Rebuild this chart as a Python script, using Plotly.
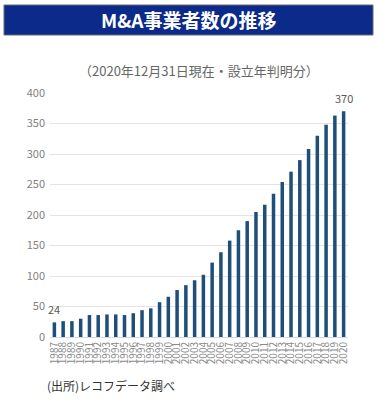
import plotly.graph_objects as go

years = [str(y) for y in range(1987, 2021)]
counts = [24, 26, 26, 30, 36, 36, 37, 37, 36, 39, 44, 47, 57, 66, 77, 85, 93,
          102, 122, 139, 158, 175, 190, 205, 217, 235, 254, 271, 290, 308, 330, 348, 363, 370]

title = "M&A事業者数の推移"
subtitle = "（2020年12月31日現在・設立年判明分）"
source = "(出所)レコフデータ調べ"

W, H = 383, 402
L, R, T, B = 50, 35, 93, 65
pw, ph = W - L - R, H - T - B

def px(x):
    return (x - L) / pw

def py(y):
    return (H - B - y) / ph

fig = go.Figure(go.Bar(
    x=years, y=counts,
    marker=dict(color="#1f4e79", line=dict(width=0)),
    hoverinfo="skip",
))

font = "Noto Sans CJK JP, Noto Sans, sans-serif"
value_notes = [
    dict(text=str(counts[i]), x=i, y=counts[i], xref="x", yref="y",
         showarrow=False, yanchor="bottom", xanchor="center", yshift=3,
         font=dict(size=11, color="#595959", family=font))
    for i in (0, len(counts) - 1)
]
fig.update_layout(
    width=W, height=H, margin=dict(l=L, r=R, t=T, b=B, autoexpand=False),
    paper_bgcolor="white", plot_bgcolor="white",
    bargap=0.6, showlegend=False,
    font=dict(family=font, color="#595959"),
    xaxis=dict(type="category", tickangle=-90, tickmode="array", tickvals=years,
               ticktext=years, tickfont=dict(size=10, color="#8a8a8a"),
               showgrid=False, showline=True, linecolor="#d9d9d9", ticks="",
               automargin=False, range=[-0.5, len(years) - 0.5]),
    yaxis=dict(range=[0, 400], dtick=50, showgrid=True, gridcolor="#e3e3e3",
               zeroline=False, tickfont=dict(size=11, color="#7f7f7f"), ticks="",
               automargin=False, ticklabelstandoff=4),
    shapes=[dict(type="rect", xref="paper", yref="paper",
                 x0=px(4), x1=px(373), y0=py(35), y1=py(5),
                 fillcolor="#0b2a8a", line=dict(color="#6b6b6b", width=1))],
    annotations=value_notes + [
        dict(text="<b>" + title + "</b>", xref="paper", yref="paper",
             x=px(188), y=py(20), showarrow=False, xanchor="center", yanchor="middle",
             font=dict(size=19, color="white", family=font)),
        dict(text=subtitle, xref="paper", yref="paper",
             x=px(199), y=py(70), showarrow=False, xanchor="center", yanchor="middle",
             font=dict(size=13, color="#666666", family=font)),
        dict(text=source, xref="paper", yref="paper",
             x=px(45), y=py(385), showarrow=False, xanchor="left", yanchor="middle",
             font=dict(size=12, color="#333333", family=font)),
    ],
)

fig.write_html("out.html", config={"displayModeBar": False, "staticPlot": True},
               post_script="document.body.style.margin='0';document.body.style.overflow='hidden';")
